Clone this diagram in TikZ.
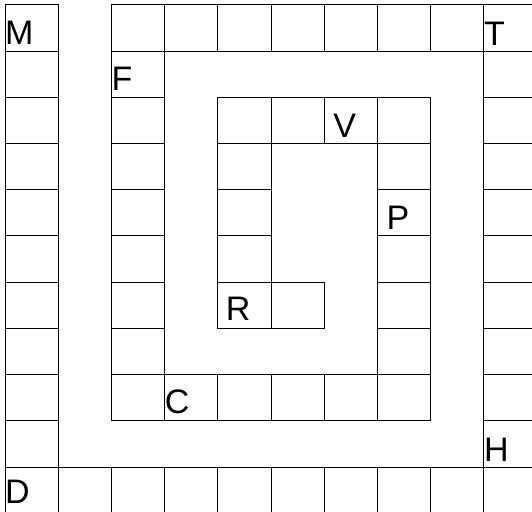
\documentclass[tikz,border=0pt]{standalone}
\usepackage{fontspec}
\setmainfont{Liberation Sans}

\begin{document}
\begin{tikzpicture}[x=53.2pt,y=-46.2pt,
  cell/.style={draw=black, line width=1pt},
  letter/.style={anchor=base west, inner sep=0pt, font={\fontsize{34}{34}\selectfont}}]
\useasboundingbox (-0.094,-0.108) rectangle (9.906,10.974);
\foreach \j in {0,...,10} \draw[cell] (0,\j) rectangle ++(1,1);
\foreach \i in {1,...,8} \draw[cell] (\i,10) rectangle ++(1,1);
\foreach \j in {0,...,10} \draw[cell] (9,\j) rectangle ++(1,1);
\foreach \i in {2,...,8} \draw[cell] (\i,0) rectangle ++(1,1);
\foreach \j in {1,...,8} \draw[cell] (2,\j) rectangle ++(1,1);
\foreach \i in {3,...,7} \draw[cell] (\i,8) rectangle ++(1,1);
\foreach \j in {2,...,7} \draw[cell] (7,\j) rectangle ++(1,1);
\foreach \i in {4,...,6} \draw[cell] (\i,2) rectangle ++(1,1);
\foreach \j in {3,...,6} \draw[cell] (4,\j) rectangle ++(1,1);
\draw[cell] (5,6) rectangle ++(1,1);
\node[letter] (m) at (0,0.85) {M};
\node[letter] (t) at (9,0.87) {T};
\node[letter] (f) at (2,1.85) {F};
\node[letter] (v) at (6.17,2.86) {V};
\node[letter] (p) at (7.17,4.85) {P};
\node[letter] (r) at (4.15,6.83) {R};
\node[letter] (c) at (3,8.85) {C};
\node[letter] (h) at (9,9.88) {H};
\node[letter] (d) at (0,10.8) {D};
\end{tikzpicture}
\end{document}
